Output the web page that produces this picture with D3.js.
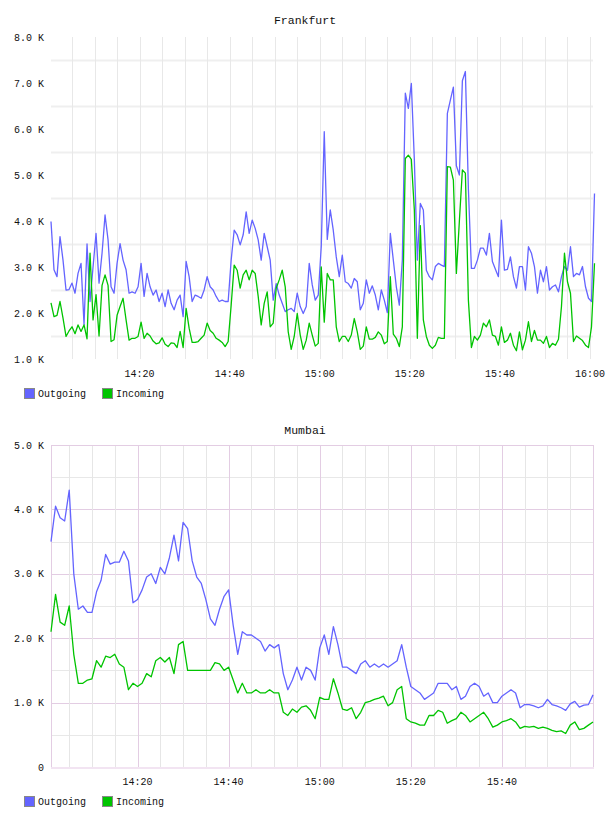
<!DOCTYPE html>
<html>
<head>
<meta charset="utf-8">
<script src="https://cdn.jsdelivr.net/npm/d3@7"></script>
<style>
  body { margin: 0; background: #fff; }
  text { font-family: "Liberation Mono", "DejaVu Sans Mono", monospace; font-size: 10px; fill: #111; }
</style>
</head>
<body>
<div id="chart"></div>
<script>
// Frankfurt: one sample every 40 s starting 14:00:20
var frankfurtOut = [3.99,2.94,2.79,3.66,3.15,2.50,2.51,2.65,2.43,2.86,3.08,1.75,3.50,2.25,3.00,3.73,2.65,3.30,4.13,3.59,
  2.57,2.43,3.08,3.51,3.15,2.94,2.43,2.46,2.43,2.57,3.08,2.36,2.86,2.57,2.39,2.50,2.25,2.43,2.14,2.50,
  2.21,2.07,2.28,2.39,1.92,3.12,2.79,2.25,2.39,2.36,2.32,2.50,2.79,2.57,2.50,2.36,2.25,2.28,2.25,2.25,
  3.15,3.80,3.70,3.48,3.70,4.20,3.73,4.02,3.84,3.59,3.15,3.73,3.44,3.15,2.28,2.64,2.39,2.21,2.03,2.07,
  2.10,2.03,2.43,2.14,1.99,2.14,3.08,2.61,2.28,2.39,3.44,5.94,3.60,4.24,3.80,3.22,2.79,3.26,2.68,2.64,
  2.54,2.75,2.68,2.07,2.21,2.72,2.43,2.59,2.39,2.07,2.50,2.28,2.01,3.73,3.15,2.57,2.17,3.15,6.78,6.45,
  6.99,5.33,3.15,4.38,4.24,2.93,2.79,2.72,3.01,3.08,3.04,3.01,6.34,6.63,6.91,5.20,5.00,7.05,7.25,4.70,
  2.97,2.97,3.15,3.41,3.41,3.26,3.73,3.12,2.95,2.79,4.02,2.93,2.95,3.22,2.79,2.54,3.01,3.01,2.50,3.44,
  3.30,3.01,2.43,2.93,2.68,3.01,2.50,2.57,2.61,2.46,2.79,3.01,2.93,3.44,2.79,2.86,2.83,3.01,2.57,2.32,
  2.25,4.60];
var frankfurtIn = [2.22,1.92,1.95,2.25,1.89,1.49,1.61,1.70,1.55,1.74,1.60,1.74,1.44,3.30,1.85,2.40,1.50,2.60,2.83,2.60,
  1.38,1.42,1.95,2.14,2.32,1.85,1.41,1.45,1.45,1.49,1.80,1.45,1.56,1.50,1.39,1.33,1.35,1.46,1.32,1.27,
  1.35,1.34,1.25,1.60,1.25,2.10,1.67,1.36,1.36,1.38,1.45,1.52,1.78,1.62,1.56,1.45,1.41,1.36,1.27,1.38,
  2.17,3.04,2.93,2.54,2.83,2.93,2.72,2.93,2.86,2.36,1.74,2.21,2.46,1.70,1.78,2.54,2.72,2.93,2.57,1.59,
  1.21,1.49,1.99,1.52,1.21,1.41,1.78,1.52,1.28,1.34,3.00,1.80,2.86,2.72,2.72,1.70,1.38,1.49,1.49,1.38,
  1.52,1.88,1.59,1.21,1.28,1.70,1.43,1.43,1.47,1.59,1.52,1.33,1.38,2.79,1.54,1.45,1.27,1.70,5.36,5.43,
  5.34,4.24,1.45,3.90,1.85,1.49,1.30,1.23,1.30,1.47,1.45,1.45,5.18,5.17,4.89,2.86,4.00,5.11,5.04,2.28,
  1.25,1.49,1.41,1.52,1.78,1.70,1.85,1.52,1.49,1.30,1.70,1.36,1.41,1.56,1.30,1.18,1.59,1.20,1.41,1.81,
  1.38,1.62,1.41,1.41,1.34,1.49,1.25,1.34,1.30,1.43,2.14,3.30,2.68,2.43,1.38,1.50,1.45,1.40,1.30,1.25,
  1.70,3.08];

// Mumbai: one sample per minute starting 14:01
var mumbaiOut = [3.50,4.05,3.87,3.82,4.30,3.00,2.45,2.50,2.40,2.40,2.72,2.90,3.30,3.15,3.18,3.18,3.35,3.20,2.55,2.60,
  2.75,2.95,3.00,2.85,3.10,3.00,3.25,3.60,3.20,3.80,3.70,3.20,2.95,2.85,2.60,2.30,2.20,2.45,2.65,2.75,
  2.20,1.75,2.10,2.05,2.05,2.00,1.95,1.80,1.90,1.85,1.90,1.45,1.20,1.35,1.55,1.35,1.55,1.50,1.35,1.85,
  2.05,1.75,2.18,1.90,1.55,1.55,1.50,1.45,1.60,1.65,1.55,1.60,1.55,1.60,1.55,1.60,1.65,1.90,1.55,1.25,
  1.20,1.15,1.05,1.10,1.15,1.30,1.30,1.30,1.20,1.25,1.05,1.10,1.25,1.30,1.25,1.10,1.15,1.00,1.00,1.10,
  1.15,1.20,1.15,0.92,0.97,0.97,0.95,0.92,0.95,1.05,0.97,0.95,0.92,0.88,0.98,1.02,0.93,0.96,0.97,1.12];
var mumbaiIn = [2.10,2.68,2.25,2.20,2.50,1.75,1.30,1.30,1.35,1.37,1.65,1.55,1.72,1.70,1.75,1.60,1.55,1.20,1.30,1.25,
  1.30,1.45,1.40,1.65,1.70,1.63,1.70,1.45,1.90,1.95,1.50,1.50,1.50,1.50,1.50,1.50,1.62,1.60,1.50,1.55,
  1.35,1.15,1.30,1.15,1.15,1.20,1.15,1.15,1.20,1.15,1.15,0.85,0.80,0.90,0.85,0.93,0.95,0.88,0.75,1.08,
  1.05,1.05,1.37,1.15,0.90,0.88,0.92,0.75,0.85,1.00,1.02,1.05,1.07,1.10,0.95,1.00,1.20,1.25,0.75,0.70,
  0.68,0.65,0.65,0.80,0.80,0.88,0.85,0.68,0.72,0.75,0.85,0.80,0.70,0.75,0.80,0.85,0.75,0.62,0.65,0.70,
  0.72,0.75,0.70,0.60,0.63,0.62,0.63,0.60,0.62,0.60,0.57,0.55,0.56,0.52,0.65,0.70,0.58,0.60,0.65,0.70];

var frankfurtYTicks = [1, 2, 3, 4, 5, 6, 7, 8];
var mumbaiYTicks = [0, 1, 2, 3, 4, 5];
var frankfurtXTicks = ["14:20", "14:40", "15:00", "15:20", "15:40", "16:00"];
var mumbaiXTicks = ["14:20", "14:40", "15:00", "15:20", "15:40"];
var seriesNames = ["Outgoing", "Incoming"];
var seriesColors = ["#6464ff", "#00c400"];

var width = 608, height = 816;
var svg = d3.select('#chart').append('svg')
  .attr('width', width)
  .attr('height', height);

var parseTime = d3.utcParse('%H:%M:%S');

function times(start, stepSec, n) {
  var t0 = parseTime(start);
  return d3.range(n).map(function(i) { return new Date(t0.getTime() + i * stepSec * 1000); });
}

function kLabel(v) { return v === 0 ? '0' : v.toFixed(1) + ' K'; }

function drawChart(cfg) {
  var g = svg.append('g');
  var x = d3.scaleUtc().domain(cfg.xDomain.map(parseTime)).range([51, 593]);
  var y = d3.scaleLinear().domain(cfg.yDomain).range([cfg.bottom, cfg.top]);

  g.append('text')
    .attr('x', 305).attr('y', cfg.titleY)
    .attr('text-anchor', 'middle')
    .style('font-size', '11.5px')
    .text(cfg.title);

  // horizontal grid, every 0.5 K
  var hLines = d3.range(cfg.yDomain[0], cfg.yDomain[1] + 0.01, 0.5);
  g.selectAll('.hgrid').data(hLines).enter().append('line')
    .filter(function(d) { return cfg.framed || d % 1 !== 0; })
    .attr('x1', 51).attr('x2', 593)
    .attr('y1', function(d) { return Math.round(y(d)) + 0.5; })
    .attr('y2', function(d) { return Math.round(y(d)) + 0.5; })
    .attr('stroke', function(d) { return cfg.framed ? (d % 1 === 0 ? '#e3cde3' : '#e8e8e8') : '#efefef'; })
    .attr('stroke-width', cfg.framed ? 1 : 2);

  // vertical grid, every 5 minutes
  var vLines = d3.utcMinute.every(5).range(x.domain()[0], new Date(x.domain()[1].getTime() + 1));
  g.selectAll('.vgrid').data(vLines).enter().append('line')
    .attr('x1', function(d) { return Math.round(x(d)) + 0.5; })
    .attr('x2', function(d) { return Math.round(x(d)) + 0.5; })
    .attr('y1', cfg.top).attr('y2', cfg.bottom)
    .attr('stroke', function(d) {
      if (cfg.framed && d.getUTCMinutes() % 20 === 0) return '#e3cde3';
      return cfg.framed ? '#e6e6e6' : '#e8e8e8';
    });

  if (cfg.framed) {
    g.append('rect')
      .attr('x', 51.5).attr('y', cfg.top + 0.5)
      .attr('width', 542).attr('height', cfg.bottom - cfg.top)
      .attr('fill', 'none').attr('stroke', '#e3cde3');
    g.append('line')
      .attr('x1', 51).attr('x2', 594)
      .attr('y1', cfg.bottom + 1).attr('y2', cfg.bottom + 1)
      .attr('stroke', '#f2e4f2').attr('stroke-width', 2);
  }

  // y labels
  g.selectAll('.ylab').data(cfg.yTicks).enter().append('text')
    .attr('x', 44)
    .attr('y', function(d) { return y(d); })
    .attr('dy', '0.35em')
    .attr('text-anchor', 'end')
    .text(kLabel);

  // x labels
  g.selectAll('.xlab').data(cfg.xTicks).enter().append('text')
    .attr('x', function(d) { return x(parseTime(d + ':00')); })
    .attr('y', cfg.bottom + 18)
    .attr('text-anchor', 'middle')
    .text(function(d) { return d; });

  var ts = times(cfg.start, cfg.step, cfg.series[0].length);
  var line = d3.line()
    .x(function(d, i) { return x(ts[i]); })
    .y(function(d) { return y(d); });

  cfg.series.forEach(function(s, k) {
    g.append('path')
      .datum(s)
      .attr('fill', 'none')
      .attr('stroke', seriesColors[k])
      .attr('stroke-width', 1.3)
      .attr('stroke-linejoin', 'round')
      .attr('d', line);
  });

  // legend
  var leg = g.selectAll('.leg').data(seriesNames).enter().append('g')
    .attr('transform', function(d, i) { return 'translate(' + (24 + i * 78) + ',' + (cfg.bottom + 29) + ')'; });
  leg.append('rect')
    .attr('x', 0.5).attr('y', 0.5).attr('width', 10).attr('height', 10)
    .attr('fill', function(d, i) { return seriesColors[i]; })
    .attr('stroke', '#888');
  leg.append('text')
    .attr('x', 14).attr('y', 9)
    .text(function(d) { return d; });
}

drawChart({
  title: 'Frankfurt', titleY: 24, top: 37, bottom: 359, yDomain: [1, 8], yTicks: frankfurtYTicks,
  xDomain: ['14:00:20', '16:00:40'], xTicks: frankfurtXTicks, framed: false,
  start: '14:00:20', step: 40, series: [frankfurtOut, frankfurtIn]
});

drawChart({
  title: 'Mumbai', titleY: 434, top: 445, bottom: 767, yDomain: [0, 5], yTicks: mumbaiYTicks,
  xDomain: ['14:01:00', '16:00:00'], xTicks: mumbaiXTicks, framed: true,
  start: '14:01:00', step: 60, series: [mumbaiOut, mumbaiIn]
});
</script>
</body>
</html>
